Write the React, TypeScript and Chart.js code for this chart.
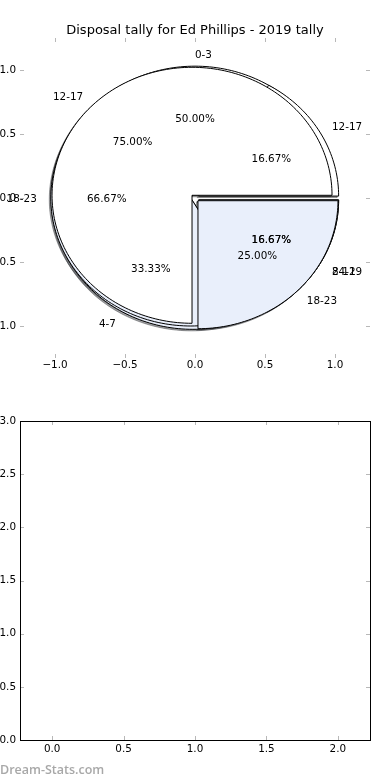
import React, { useEffect, useRef } from 'react';
import { Chart, registerables } from 'chart.js';
Chart.register(...registerables);

// ---- data ----
const titleText = 'Disposal tally for Ed Phillips - 2019 tally';
const pieALabels = ['0-3', '4-7', '8-11'];
const pieAValues = [3, 2, 1];
const pieCLabels = ['12-17', '18-23', '24-29'];
const pieCValues = [1, 4, 1];
const pieBLabels = ['12-17', '18-23'];
const pieBValues = [3, 1];
const topTicks = [-1, -0.5, 0, 0.5, 1];
const bottomXTicks = [0, 0.5, 1, 1.5, 2];
const bottomYTicks = [0, 0.5, 1, 1.5, 2, 2.5, 3];
const watermark = 'Dream-Stats.com';

// ---- style ----
const SLICE_COLORS = ['#ffffff', '#e9effb', '#cdd9f1'];
const EXPLODE = 0.03;
const FONT = '"DejaVu Sans", sans-serif';
const TICK_FONT = { family: FONT, size: 10.4 };

const pies = [
  { labels: pieALabels, values: pieAValues },
  { labels: pieCLabels, values: pieCValues },
  { labels: pieBLabels, values: pieBValues },
];

const fmt = (v: number) => v.toFixed(1).replace('-', '\u2212');

function hexToRgb(h: string) {
  const n = parseInt(h.slice(1), 16);
  return [(n >> 16) & 255, (n >> 8) & 255, n & 255];
}

const piePlugin = {
  id: 'mplPies',
  afterDatasetsDraw(chart: any) {
    const { ctx } = chart;
    const xs = chart.scales.x;
    const ys = chart.scales.y;
    const px = (v: number) => xs.getPixelForValue(v);
    const py = (v: number) => ys.getPixelForValue(v);
    const wedges: any[] = [];
    const texts: any[] = [];
    pies.forEach((p) => {
      const total = p.values.reduce((a, b) => a + b, 0);
      const norm = total > 1 ? total : 1;
      let t1 = 0;
      p.values.forEach((v, i) => {
        const frac = v / norm;
        const t2 = t1 + 360 * frac;
        const tm = ((t1 + t2) / 2) * Math.PI / 180;
        const cx = EXPLODE * Math.cos(tm);
        const cy = EXPLODE * Math.sin(tm);
        wedges.push({ cx, cy, t1, t2, color: SLICE_COLORS[i % SLICE_COLORS.length] });
        const xt = cx + 1.1 * Math.cos(tm);
        const yt = cy + 1.1 * Math.sin(tm);
        texts.push({ x: xt, y: yt, s: p.labels[i], align: xt > 0 ? 'left' : 'right' });
        texts.push({ x: cx + 0.6 * Math.cos(tm), y: cy + 0.6 * Math.sin(tm), s: (frac * 100).toFixed(2) + '%', align: 'center' });
        t1 = t2;
      });
    });
    const path = (w: any, ox = 0, oy = 0) => {
      ctx.beginPath();
      ctx.moveTo(px(w.cx) + ox, py(w.cy) + oy);
      const n = Math.max(8, Math.ceil((w.t2 - w.t1) / 1.5));
      for (let k = 0; k <= n; k++) {
        const t = (w.t1 + (w.t2 - w.t1) * k / n) * Math.PI / 180;
        ctx.lineTo(px(w.cx + Math.cos(t)) + ox, py(w.cy + Math.sin(t)) + oy);
      }
      ctx.closePath();
    };
    ctx.save();
    ctx.lineJoin = 'miter';
    wedges.forEach((w) => {
      const [r, g, b] = hexToRgb(w.color).map((c) => Math.round(c * 0.3));
      path(w, -1.5, 1.5);
      ctx.fillStyle = `rgba(${r},${g},${b},0.5)`;
      ctx.strokeStyle = `rgba(${r},${g},${b},0.5)`;
      ctx.lineWidth = 1;
      ctx.fill();
      ctx.stroke();
    });
    wedges.forEach((w) => {
      path(w);
      ctx.fillStyle = w.color;
      ctx.strokeStyle = '#000';
      ctx.lineWidth = 1;
      ctx.fill();
      ctx.stroke();
    });
    ctx.fillStyle = '#000';
    ctx.font = `10.4px ${FONT}`;
    ctx.textBaseline = 'middle';
    texts.forEach((t) => {
      ctx.textAlign = t.align;
      ctx.fillText(t.s, px(t.x), py(t.y) + 1.5);
    });
    ctx.restore();
  },
};

const mplAxesPlugin = {
  id: 'mplAxes',
  afterDraw(chart: any, _args: any, opts: any) {
    const { ctx, chartArea: a } = chart;
    const xs = chart.scales.x;
    const ys = chart.scales.y;
    ctx.save();
    ctx.strokeStyle = '#b8b8b8';
    ctx.lineWidth = 1;
    const L = 4;
    xs.ticks.forEach((t: any) => {
      const x = Math.round(xs.getPixelForValue(t.value)) + 0.5;
      ctx.beginPath();
      ctx.moveTo(x, a.bottom); ctx.lineTo(x, a.bottom - L);
      ctx.moveTo(x, a.top); ctx.lineTo(x, a.top + L);
      ctx.stroke();
    });
    ys.ticks.forEach((t: any) => {
      const y = Math.round(ys.getPixelForValue(t.value)) + 0.5;
      ctx.beginPath();
      ctx.moveTo(a.left, y); ctx.lineTo(a.left + L, y);
      ctx.moveTo(a.right, y); ctx.lineTo(a.right - L, y);
      ctx.stroke();
    });
    if (opts.frame) {
      ctx.strokeStyle = '#000';
      ctx.strokeRect(Math.round(a.left) + 0.5, Math.round(a.top) + 0.5, Math.round(a.right - a.left), Math.round(a.bottom - a.top));
    }
    if (opts.title) {
      ctx.fillStyle = '#000';
      ctx.font = `13px ${FONT}`;
      ctx.textAlign = 'center';
      ctx.textBaseline = 'alphabetic';
      ctx.fillText(opts.title, (a.left + a.right) / 2, a.top - 4);
    }
    if (opts.watermark) {
      ctx.fillStyle = '#a8a8a8';
      ctx.font = `600 12.5px "Open Sans", sans-serif`;
      ctx.textAlign = 'left';
      ctx.textBaseline = 'middle';
      ctx.fillText(opts.watermark, 0, a.bottom + 30);
    }
    ctx.restore();
  },
};

function makeScale(min: number, max: number, ticks: number[], axis: 'x' | 'y', size: number, pad: number) {
  return {
    type: 'linear',
    min,
    max,
    grid: { display: false, drawTicks: false },
    border: { display: false },
    afterBuildTicks: (s: any) => { s.ticks = ticks.map((v) => ({ value: v })); },
    afterFit: (s: any) => { if (axis === 'x') s.height = size; else s.width = size; },
    ticks: {
      autoSkip: false,
      maxRotation: 0,
      padding: pad,
      color: '#000',
      font: TICK_FONT,
      callback: (v: any) => fmt(Number(v)),
    },
  };
}

function useChart(ref: any, cfg: () => any) {
  useEffect(() => {
    const chart = new Chart(ref.current, cfg());
    return () => chart.destroy();
  }, []);
}

export default function App() {
  const topRef = useRef<HTMLCanvasElement>(null);
  const botRef = useRef<HTMLCanvasElement>(null);

  useChart(topRef, () => ({
    type: 'scatter',
    data: { datasets: [{ data: [], showLine: false }] },
    options: {
      animation: false,
      responsive: false,
      devicePixelRatio: 1,
      layout: { padding: { top: 38, right: 20, left: 0, bottom: 0 } },
      plugins: {
        legend: { display: false },
        tooltip: { enabled: false },
        mplAxes: { frame: false, title: titleText },
      },
      scales: {
        x: makeScale(-1.25, 1.25, topTicks, 'x', 42, 1),
        y: makeScale(-1.25, 1.25, topTicks, 'y', 20, 4),
      },
    },
    plugins: [piePlugin, mplAxesPlugin],
  }));

  useChart(botRef, () => ({
    type: 'scatter',
    data: { datasets: [{ data: [], showLine: false }] },
    options: {
      animation: false,
      responsive: false,
      devicePixelRatio: 1,
      layout: { padding: { top: 21, right: 20, left: 0, bottom: 0 } },
      plugins: {
        legend: { display: false },
        tooltip: { enabled: false },
        mplAxes: { frame: true, watermark },
      },
      scales: {
        x: makeScale(-0.225, 2.225, bottomXTicks, 'x', 40, 3),
        y: makeScale(0, 3, bottomYTicks, 'y', 20, 4),
      },
    },
    plugins: [mplAxesPlugin],
  }));

  return (
    <div style={{ position: 'fixed', left: 0, top: 0, width: 390, height: 780, background: '#fff' }}>
      <canvas ref={topRef} width={390} height={400} style={{ display: 'block', width: 390, height: 400 }} />
      <canvas ref={botRef} width={390} height={380} style={{ display: 'block', width: 390, height: 380 }} />
    </div>
  );
}
